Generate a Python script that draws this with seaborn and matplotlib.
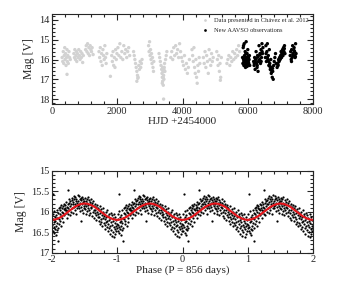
import numpy as np
import pandas as pd
import matplotlib
matplotlib.use("Agg")
import matplotlib.pyplot as plt
from matplotlib.ticker import MultipleLocator
import seaborn as sns

# ---------------- data: light curve (top panel) ----------------
gray_hjd = [
    310, 330, 345, 360, 375, 390, 400, 415, 430, 445, 460, 470, 485, 500, 520, 540, 560, 460,
    670, 690, 700, 720, 735, 750, 760, 780, 800, 820, 840, 860, 880, 900, 920, 940, 960,
    1030, 1050, 1070, 1090, 1110, 1130, 1150, 1170, 1190, 1210, 1230, 1260,
    1440, 1460, 1480, 1500, 1520, 1540, 1560, 1580, 1600, 1620, 1640, 1660, 1680, 1790,
    1830, 1850, 1870, 1890, 1910, 1930, 1950, 1970, 1990, 2020, 2050, 2080, 2110, 2140,
    2170, 2200, 2230, 2260, 2290, 2320, 2350, 2380,
    2500, 2520, 2540, 2560, 2580, 2600, 2620, 2640, 2660, 2680, 2700, 2720, 2740, 2760, 2600, 2630,
    2960, 2975, 2990, 3005, 3020, 3035, 3050, 3065, 3080, 3095, 3110, 3120,
    3280, 3300, 3320, 3340, 3360, 3370, 3380, 3390, 3400, 3410, 3420, 3430, 3440, 3450,
    3460, 3480, 3500, 3520, 3420, 3390, 3410, 3380, 3430,
    3640, 3670, 3700, 3730, 3760, 3790, 3820, 3850, 3880, 3910, 3940, 3970, 4000, 4030,
    4060, 4090, 4120, 4150, 4180, 4210,
    4290, 4310, 4330, 4350, 4370, 4390, 4410, 4430, 4450, 4470, 4490, 4510, 4530,
    4640, 4665, 4690, 4715, 4740, 4765, 4790, 4815, 4840, 4865, 4890, 4915, 4940,
    5050, 5070, 5090, 5110, 5130, 5150, 5170, 5190, 5160,
    5360, 5390, 5420, 5450, 5480, 5510, 5540, 5570, 5600, 5630, 5660, 5690, 5720, 5750,
]
gray_mag = [
    15.9, 16.1, 15.6, 16.2, 15.8, 15.4, 16.0, 15.7, 16.3, 15.9, 15.5, 16.1, 15.8, 16.2, 15.6, 15.9, 16.0, 16.75,
    15.7, 15.9, 15.5, 16.0, 15.8, 15.6, 16.1, 15.7, 15.9, 15.5, 15.8, 16.0, 15.6, 15.9, 15.7, 16.15, 15.8,
    15.5, 15.3, 15.6, 15.2, 15.7, 15.4, 15.8, 15.3, 15.5, 15.6, 15.4, 15.75,
    15.6, 15.9, 15.4, 16.1, 15.7, 16.3, 15.5, 15.8, 16.0, 15.3, 15.9, 16.2, 15.7, 16.85,
    15.8, 16.1, 15.6, 16.3, 15.9, 16.4, 15.5, 16.0, 15.7, 15.4, 15.8, 15.2, 15.9, 15.6,
    16.0, 15.3, 15.7, 15.5, 15.9, 15.6, 15.4, 15.8,
    15.6, 15.8, 16.0, 16.2, 16.4, 16.6, 16.8, 16.9, 16.3, 16.5, 16.1, 16.4, 16.2, 16.0, 17.1, 16.95,
    15.3, 15.6, 15.1, 15.8, 15.5, 16.0, 15.7, 16.2, 15.9, 16.4, 16.6, 16.1,
    15.7, 15.9, 16.1, 16.3, 16.5, 16.7, 16.9, 17.1, 16.6, 17.3, 16.8, 17.0, 16.4, 16.2,
    16.6, 16.0, 15.8, 15.6, 18.0, 16.4, 16.9, 17.2, 16.5,
    15.9, 15.6, 16.0, 15.4, 15.8, 15.3, 15.7, 15.5, 15.9, 15.2, 15.6, 15.9, 16.1, 16.3,
    15.8, 16.5, 16.2, 16.7, 16.4, 16.0,
    15.5, 15.8, 16.1, 15.4, 16.4, 16.7, 16.0, 16.9, 17.2, 16.3, 16.6, 15.9, 16.2,
    15.9, 16.2, 15.6, 16.4, 15.8, 16.1, 16.7, 15.5, 16.0, 16.3, 15.7, 16.1, 15.9,
    15.6, 16.0, 16.3, 15.8, 16.6, 16.2, 16.9, 15.9, 17.05,
    16.2, 16.0, 15.8, 16.3, 15.9, 16.1, 15.6, 16.0, 15.7, 15.9, 15.5, 15.8, 15.3, 15.6,
]

black_hjd = [
    5840, 5850, 5860, 5870, 5880, 5890, 5900, 5910, 5920, 5930, 5940, 5950, 5960, 5970, 5980,
    5990, 6000, 6010, 6020, 6030, 6040, 6050, 6060, 5880, 5900, 5920, 5940, 5960, 5980, 6000,
    6020, 5870, 5910, 5950, 5990,
    6180, 6195, 6210, 6225, 6240, 6255, 6270, 6285, 6300, 6315, 6330, 6345, 6360, 6375, 6390,
    6405, 6420, 6435, 6450, 6465, 6200, 6230, 6260, 6290, 6320, 6350, 6380, 6410, 6440,
    6540, 6555, 6570, 6585, 6600, 6615, 6630, 6645, 6660, 6675, 6690, 6705, 6720, 6735, 6750,
    6765, 6780, 6795, 6810, 6830, 6850, 6870, 6560, 6600, 6640, 6680, 6720, 6760,
    6900, 6915, 6930, 6945, 6960, 6975, 6990, 7005, 7020, 7035, 7050, 7065, 7080, 7095, 7110,
    7125, 7140, 6920, 6960, 7000, 7040, 7080, 7120,
    7300, 7315, 7330, 7345, 7360, 7375, 7390, 7405, 7420, 7435, 7450, 7465, 7480, 7340, 7380,
    7420, 7460,
]
black_mag = [
    15.9, 16.2, 15.4, 16.0, 16.3, 15.2, 15.8, 16.1, 15.6, 16.4, 15.9, 15.1, 16.0, 16.2, 15.7,
    16.3, 15.5, 16.1, 15.9, 16.2, 16.0, 15.8, 16.3, 16.1, 15.95, 16.25, 15.7, 16.05, 16.35, 15.85,
    16.15, 15.3, 16.05, 15.9, 16.2,
    16.1, 16.3, 15.9, 16.5, 16.0, 15.6, 16.2, 16.4, 15.8, 16.6, 16.1, 15.3, 16.0, 15.7, 16.2,
    15.5, 15.9, 15.2, 15.7, 15.4, 16.2, 16.1, 15.95, 16.3, 15.85, 16.05, 15.75, 16.1, 15.6,
    15.9, 15.3, 16.1, 15.6, 15.2, 16.0, 15.8, 16.3, 15.5, 16.2, 16.5, 16.0, 16.7, 16.4, 16.9,
    16.6, 17.0, 16.3, 16.1, 15.9, 15.7, 16.2, 15.7, 15.9, 16.1, 16.35, 16.55, 16.45,
    16.4, 16.2, 16.3, 16.0, 16.1, 15.9, 16.0, 15.8, 15.6, 15.9, 15.7, 15.5, 15.8, 15.4, 15.6,
    15.3, 15.7, 16.25, 16.05, 15.95, 15.75, 15.65, 15.45,
    15.8, 15.6, 16.0, 15.5, 15.9, 15.3, 15.7, 15.8, 15.4, 15.6, 15.9, 15.2, 15.7, 16.1, 15.75,
    15.55, 15.85,
]

# ---------------- data: phased curve (bottom panel), one cycle ----------------
fold_phase = [
    0.004, 0.009, 0.013, 0.018, 0.021, 0.026, 0.031, 0.034, 0.038, 0.043, 0.047,
    0.052, 0.056, 0.061, 0.064, 0.069, 0.073, 0.078, 0.082, 0.088, 0.091, 0.097,
    0.102, 0.106, 0.111, 0.117, 0.121, 0.124, 0.129, 0.133, 0.138, 0.142,
    0.147, 0.152, 0.158, 0.161, 0.166, 0.172, 0.177, 0.183, 0.188, 0.194,
    0.201, 0.205, 0.212, 0.216, 0.219, 0.224, 0.229, 0.233, 0.238, 0.243,
    0.248, 0.252, 0.257, 0.262, 0.268, 0.271, 0.276, 0.283, 0.288, 0.294,
    0.302, 0.306, 0.311, 0.315, 0.321, 0.326, 0.330, 0.336, 0.341, 0.345,
    0.349, 0.354, 0.359, 0.363, 0.368, 0.374, 0.379, 0.384, 0.391, 0.396,
    0.401, 0.407, 0.412, 0.418, 0.422, 0.427, 0.431, 0.437, 0.441, 0.447,
    0.452, 0.456, 0.461, 0.466, 0.472, 0.477, 0.482, 0.486, 0.492, 0.497,
    0.503, 0.507, 0.511, 0.516, 0.522, 0.527, 0.531, 0.536, 0.542, 0.546,
    0.551, 0.557, 0.562, 0.566, 0.571, 0.577, 0.582, 0.587, 0.592, 0.598,
    0.603, 0.609, 0.614, 0.619, 0.624, 0.631, 0.636, 0.642, 0.647,
    0.653, 0.658, 0.664, 0.669, 0.676, 0.681, 0.687, 0.692, 0.698,
    0.702, 0.708, 0.713, 0.719, 0.724, 0.729, 0.735, 0.741, 0.746,
    0.752, 0.757, 0.763, 0.768, 0.774, 0.779, 0.785, 0.791, 0.796,
    0.801, 0.806, 0.811, 0.816, 0.822, 0.827, 0.832, 0.838, 0.843, 0.848,
    0.853, 0.858, 0.864, 0.869, 0.874, 0.879, 0.884, 0.889, 0.894, 0.899,
    0.903, 0.908, 0.912, 0.917, 0.922, 0.928, 0.933, 0.938, 0.943, 0.948,
    0.953, 0.958, 0.963, 0.968, 0.973, 0.978, 0.983, 0.988, 0.993, 0.998,
]
fold_mag = [
    16.32, 16.05, 16.48, 16.18, 15.56, 16.38, 15.98, 16.52, 16.26, 16.12, 16.42,
    16.22, 16.58, 16.08, 16.35, 16.45, 15.96, 16.28, 16.15, 16.71, 16.40, 16.02,
    16.18, 15.92, 16.30, 16.05, 15.88, 16.22, 15.97, 16.10, 15.84, 16.35,
    16.00, 15.90, 16.15, 15.86, 16.02, 16.25, 15.93, 15.80, 16.08, 15.95,
    15.92, 15.84, 16.02, 15.95, 15.76, 16.15, 15.88, 15.98, 15.82, 16.05,
    15.90, 15.46, 15.78, 15.95, 15.70, 16.08, 15.86, 15.75, 16.00, 15.82,
    15.72, 15.90, 15.66, 15.82, 16.02, 15.76, 15.62, 15.88, 15.70, 15.95,
    15.80, 15.64, 15.85, 15.74, 16.05, 15.68, 15.90, 15.78, 15.60, 15.86,
    15.74, 15.92, 15.62, 15.84, 15.70, 15.98, 15.78, 15.66, 15.88, 16.23,
    15.72, 15.95, 15.64, 15.82, 15.76, 16.02, 15.68, 15.86, 15.74, 15.92,
    15.80, 15.66, 15.94, 15.74, 16.05, 15.86, 15.70, 15.98, 15.78, 15.64,
    15.90, 15.84, 16.08, 15.72, 15.96, 15.82, 15.76, 16.02, 15.88, 15.70,
    15.92, 15.78, 16.10, 15.84, 16.00, 15.74, 15.96, 16.15, 15.86,
    16.04, 15.80, 15.95, 16.20, 15.88, 16.08, 15.84, 16.00, 16.14,
    15.90, 16.05, 16.22, 15.96, 16.12, 15.86, 16.30, 16.02, 16.18,
    15.94, 16.25, 16.08, 16.35, 16.00, 16.15, 15.92, 16.28, 16.10,
    16.05, 16.32, 16.18, 16.42, 16.00, 16.25, 16.12, 16.38, 15.95, 16.22,
    16.48, 16.10, 16.30, 16.05, 16.40, 16.20, 16.55, 16.15, 16.34, 16.02,
    16.25, 16.45, 16.08, 16.60, 16.32, 16.15, 16.50, 16.22, 16.38, 16.05,
    16.62, 16.28, 16.42, 16.12, 16.55, 16.35, 16.20, 16.48, 16.30, 16.40,
]
# fitted model (red line), one cycle, read at 0.05 phase steps
model_phase = [0.00, 0.05, 0.10, 0.15, 0.20, 0.25, 0.30, 0.35, 0.40, 0.45, 0.50,
               0.55, 0.60, 0.65, 0.70, 0.75, 0.80, 0.85, 0.90, 0.95, 1.00]
model_mag = [16.20, 16.19, 16.16, 16.12, 16.06, 16.00, 15.94, 15.88, 15.84, 15.81, 15.80,
             15.81, 15.84, 15.88, 15.94, 16.00, 16.06, 16.12, 16.16, 16.19, 16.20]
cycles = [-2, -1, 0, 1]

legend_labels = ["Data presented in Chávez et al. 2012", "New AAVSO observations"]

# ---------------- build tables ----------------
lc = pd.concat([
    pd.DataFrame({"hjd": gray_hjd, "mag": gray_mag, "set": legend_labels[0]}),
    pd.DataFrame({"hjd": black_hjd, "mag": black_mag, "set": legend_labels[1]}),
], ignore_index=True)

fold = pd.concat([pd.DataFrame({"phase": np.array(fold_phase) + c, "mag": fold_mag})
                  for c in cycles], ignore_index=True)
model = pd.concat([pd.DataFrame({"phase": np.array(model_phase) + c, "mag": model_mag, "cyc": c})
                   for c in cycles], ignore_index=True)

# ---------------- style ----------------
sns.set_style("ticks")
plt.rcParams["font.family"] = ["Liberation Serif", "DejaVu Serif"]
plt.rcParams["axes.unicode_minus"] = False

fig = plt.figure(figsize=(3.39, 2.96), dpi=100)
ax1 = fig.add_axes([0.1534, 0.6486, 0.770, 0.304])
ax2 = fig.add_axes([0.1534, 0.1463, 0.770, 0.277])

sns.scatterplot(data=lc, x="hjd", y="mag", hue="set",
                palette={legend_labels[0]: "#d2d2d2", legend_labels[1]: "black"},
                s=6, linewidth=0, ax=ax1, legend=True)
ax1.set_xlim(0, 8000)
ax1.set_ylim(18.25, 13.7)
ax1.xaxis.set_major_locator(MultipleLocator(2000))
ax1.xaxis.set_minor_locator(MultipleLocator(400))
ax1.yaxis.set_major_locator(MultipleLocator(1))
ax1.yaxis.set_minor_locator(MultipleLocator(0.2))
ax1.set_xlabel("HJD +2454000", fontsize=8, labelpad=1)
ax1.set_ylabel("Mag [V]", fontsize=8.5, labelpad=3)
leg = ax1.legend(loc="upper left", bbox_to_anchor=(0.56, 0.99), frameon=False,
                 fontsize=4.6, handletextpad=0.8, borderaxespad=0.0,
                 labelspacing=0.75, markerscale=0.8, handlelength=1.2)

sns.scatterplot(data=fold, x="phase", y="mag", color="black", s=2.6, linewidth=0, ax=ax2)
sns.lineplot(data=model, x="phase", y="mag", units="cyc", estimator=None, sort=False,
             color="#e8161c", linewidth=1.5, ax=ax2)
ax2.set_xlim(-2, 2)
ax2.set_ylim(17, 15)
ax2.xaxis.set_minor_locator(MultipleLocator(0.2))
ax2.yaxis.set_minor_locator(MultipleLocator(0.1))
ax2.set_yticks([15, 15.5, 16, 16.5, 17])
ax2.set_yticklabels(["15", "15.5", "16", "16.5", "17"])
ax2.set_xticks([-2, -1, 0, 1, 2])
ax2.set_xticklabels(["-2", "-1", "0", "1", "2"])
ax2.set_xlabel("Phase (P = 856 days)", fontsize=8, labelpad=1)
ax2.set_ylabel("Mag [V]", fontsize=8.5, labelpad=3)

for ax in (ax1, ax2):
    for sp in ax.spines.values():
        sp.set_linewidth(0.8)
        sp.set_visible(True)
    ax.tick_params(which="both", direction="in", top=True, right=True, width=0.8,
                   labelsize=7.5, pad=2)
    ax.tick_params(which="major", length=4)
    ax.tick_params(which="minor", length=2)

fig.savefig("out.png", dpi=100)
